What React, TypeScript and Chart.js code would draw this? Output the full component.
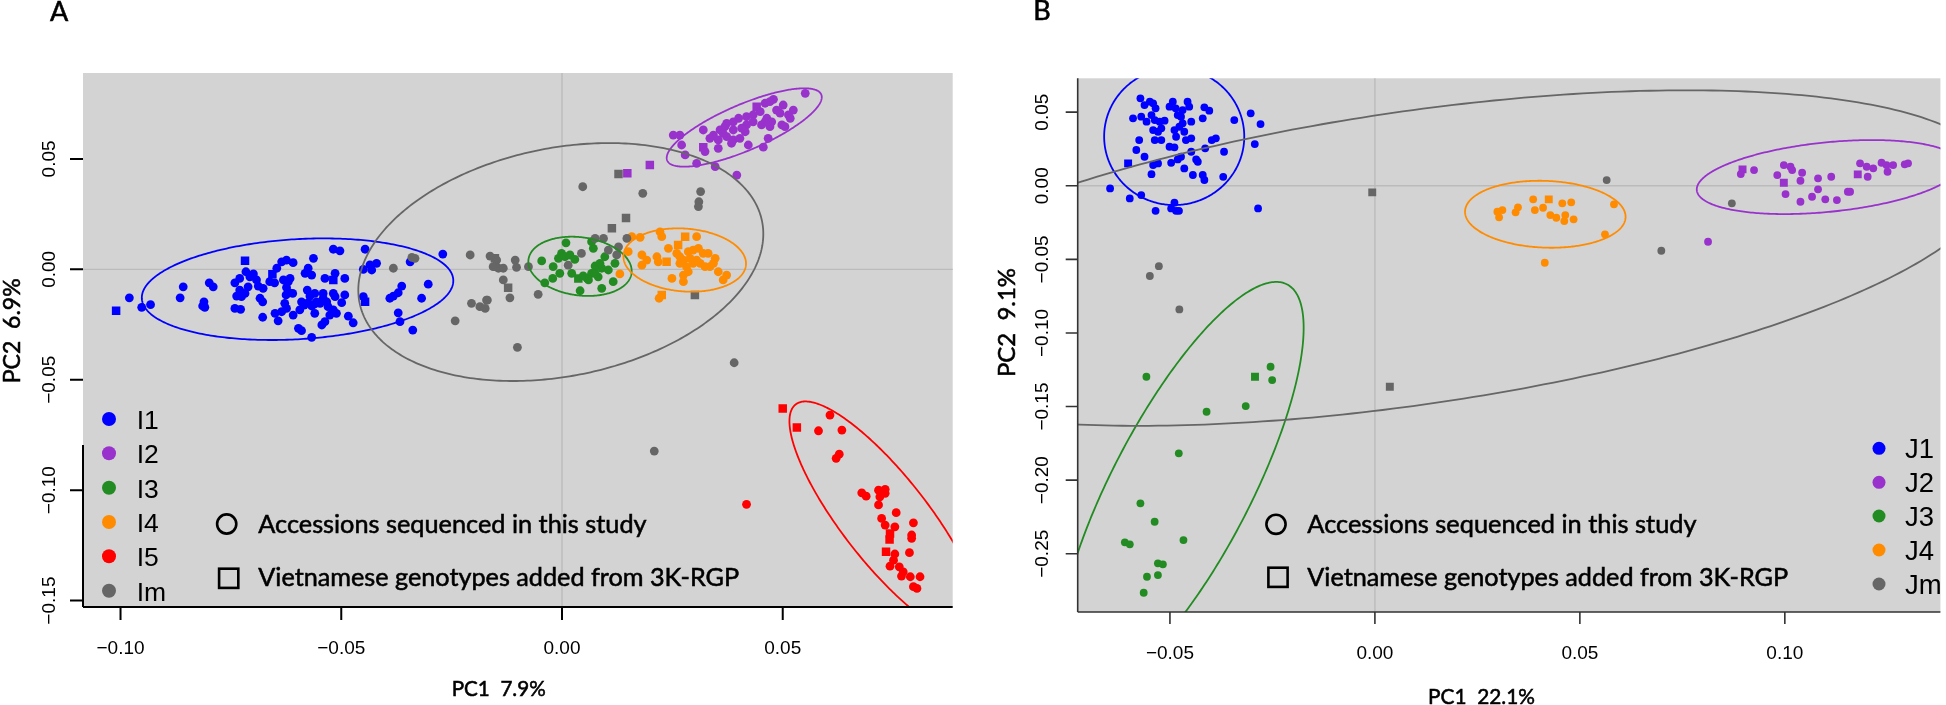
import React, { useEffect, useRef } from "react";
import { Chart, registerables } from "chart.js";
Chart.register(...registerables);

type P = [number, number];

// ================= Panel A data =================
const A_groups = ["I1", "I2", "I3", "I4", "I5", "Im"];
const A_colors = ["#0000FF", "#9932CC", "#228B22", "#FF8C00", "#FF0000", "#666666"];
const A_xTicks = [-0.1, -0.05, 0.0, 0.05];
const A_yTicks = [-0.15, -0.1, -0.05, 0.0, 0.05];
const A_xTitle = "PC1  7.9%";
const A_yTitle = "PC2  6.9%";

const A_I1_circles: P[] = [
  [-0.098, -0.0129], [-0.0952, -0.0172], [-0.0932, -0.016], [-0.0858, -0.0079], [-0.0865, -0.0129],
  [-0.0811, -0.0147], [-0.0814, -0.0166], [-0.0809, -0.0172], [-0.0799, -0.0061], [-0.079, -0.0079],
  [-0.0741, -0.0061], [-0.073, -0.0041], [-0.0716, -0.0011], [-0.0707, -0.0034], [-0.0699, -0.0021],
  [-0.073, -0.0094], [-0.0737, -0.0121], [-0.0726, -0.0124], [-0.0718, -0.0109], [-0.0711, -0.0079],
  [-0.0741, -0.0177], [-0.0728, -0.0181], [-0.0692, -0.0048], [-0.0688, -0.0076], [-0.0677, -0.0086],
  [-0.0684, -0.0131], [-0.0678, -0.0147], [-0.0678, -0.0217], [-0.0662, -0.0056], [-0.0646, 0.0005],
  [-0.0635, 0.0034], [-0.0624, 0.0042], [-0.0609, 0.003], [-0.0651, -0.0061], [-0.0631, -0.0048],
  [-0.062, -0.0056], [-0.0616, -0.0041], [-0.0624, -0.0082], [-0.0618, -0.0106], [-0.061, -0.0109],
  [-0.0625, -0.0116], [-0.0628, -0.0154], [-0.0624, -0.0177], [-0.0635, -0.0192], [-0.065, -0.0199],
  [-0.0643, -0.0233], [-0.0609, -0.0207], [-0.0597, -0.0267], [-0.059, -0.0278], [-0.0594, -0.0184],
  [-0.0582, -0.0018], [-0.0575, 0.0005], [-0.0563, 0.005], [-0.0567, -0.0026], [-0.0577, -0.0094],
  [-0.0571, -0.0121], [-0.056, -0.0109], [-0.059, -0.0147], [-0.0584, -0.0162], [-0.0575, -0.0151],
  [-0.0567, -0.0166], [-0.056, -0.0157], [-0.0556, -0.0147], [-0.056, -0.0199], [-0.0567, -0.0308],
  [-0.0548, -0.0154], [-0.0541, -0.0131], [-0.0541, -0.0109], [-0.0533, -0.0147], [-0.0544, -0.0252],
  [-0.0537, -0.0237], [-0.0526, -0.0207], [-0.0518, -0.0184], [-0.0511, -0.0199], [-0.053, -0.0169],
  [-0.0537, -0.0041], [-0.0514, -0.0018], [-0.0518, 0.0091], [-0.0503, 0.0084], [-0.0518, -0.0109],
  [-0.0514, -0.0124], [-0.0492, -0.0041], [-0.0492, -0.0116], [-0.0499, -0.0151], [-0.0484, -0.0212],
  [-0.0473, -0.0242], [-0.045, 0.0], [-0.0446, 0.0091], [-0.0435, 0.002], [-0.0431, -0.0003],
  [-0.042, 0.0027], [-0.045, -0.0124], [-0.039, -0.0131], [-0.0382, -0.0121], [-0.0371, -0.0106],
  [-0.0363, -0.0076], [-0.0371, -0.0197], [-0.0367, -0.0237], [-0.0338, -0.0275], [-0.0318, -0.0131],
  [-0.0303, -0.0067], [-0.0344, 0.0034], [-0.027, 0.0069],
];
const A_I1_squares: P[] = [[-0.101, -0.0188], [-0.0718, 0.0039], [-0.0518, -0.0048], [-0.0446, -0.0147], [-0.0656, -0.0022]];

const A_I2_circles: P[] = [
  [0.0551, 0.0797], [0.0479, 0.077], [0.0471, 0.0759], [0.046, 0.0752], [0.0501, 0.0744], [0.0524, 0.0721],
  [0.0513, 0.0699], [0.0517, 0.0684], [0.0494, 0.0707], [0.0486, 0.0721], [0.0449, 0.0714], [0.0433, 0.0699],
  [0.0418, 0.0691], [0.04, 0.0684], [0.0388, 0.0668], [0.0373, 0.0661], [0.0369, 0.0646], [0.0358, 0.0631],
  [0.0343, 0.0608], [0.0335, 0.0593], [0.032, 0.0631], [0.0354, 0.0586], [0.0373, 0.0601], [0.0388, 0.0586],
  [0.0403, 0.0593], [0.0384, 0.0571], [0.0422, 0.0563], [0.0456, 0.0553], [0.0467, 0.0593], [0.0498, 0.0654],
  [0.0505, 0.0646], [0.0471, 0.0646], [0.0452, 0.0654], [0.0433, 0.0668], [0.0418, 0.0654], [0.0407, 0.0639],
  [0.0415, 0.0623], [0.0388, 0.0631], [0.0365, 0.0616], [0.0354, 0.0548], [0.0324, 0.0533], [0.0267, 0.0608],
  [0.0252, 0.0608], [0.0271, 0.0563], [0.0279, 0.0518], [0.0305, 0.048], [0.0347, 0.0465], [0.0396, 0.0427],
  [0.0464, 0.0684], [0.0475, 0.0668], [0.046, 0.0668],
];
const A_I2_squares: P[] = [[0.0441, 0.0736], [0.032, 0.0553], [0.0199, 0.0472], [0.0148, 0.0435]];

const A_I3_circles: P[] = [
  [-0.0046, 0.0038], [-0.002, 0.0012], [-0.0005, -0.0018], [-0.0021, -0.0041], [-0.0039, -0.0061],
  [0.0009, 0.012], [-0.0001, 0.0072], [-0.0008, 0.005], [0.0007, 0.0057], [0.0018, 0.0065],
  [0.0029, 0.0045], [0.0022, -0.0018], [0.0041, -0.0097], [0.0057, -0.0041], [0.0067, -0.0018],
  [0.0075, 0.0015], [0.009, 0.0005], [0.0105, -0.0003], [0.0097, 0.0057], [0.0071, 0.0095],
  [0.0067, 0.0125], [0.0082, -0.0034], [0.009, -0.0086], [0.0116, -0.0056], [0.012, 0.0027],
  [0.006, -0.0048], [0.0086, 0.0027], [0.0075, -0.0018], [0.0048, -0.003],
];
const A_I3_squares: P[] = [[0.0037, -0.0041]];

const A_I4_circles: P[] = [
  [0.0158, 0.0148], [0.0177, 0.0145], [0.0222, 0.017], [0.0226, 0.0148], [0.0305, 0.0148], [0.0241, 0.0095],
  [0.0181, 0.0065], [0.0192, 0.0042], [0.0181, 0.0019], [0.0215, 0.0057], [0.0218, 0.0034], [0.026, 0.0072],
  [0.0267, 0.0057], [0.0275, 0.0042], [0.0286, 0.008], [0.0297, 0.0087], [0.0309, 0.0095], [0.032, 0.0072],
  [0.0331, 0.0072], [0.0347, 0.005], [0.0343, 0.0027], [0.0335, 0.0012], [0.0324, 0.0012], [0.0313, 0.0027],
  [0.0297, 0.0027], [0.0282, 0.0012], [0.0286, -0.0011], [0.0275, -0.0026], [0.0275, -0.0056], [0.0249, -0.0041],
  [0.0131, -0.0021], [0.015, 0.008], [0.0354, -0.0011], [0.0373, -0.0026], [0.0365, -0.0048], [0.022, -0.0131],
  [0.029, 0.005], [0.0305, 0.0042], [0.0267, 0.0027],
];
const A_I4_squares: P[] = [[0.0263, 0.011], [0.0279, 0.0148], [0.0237, 0.0034], [0.0226, -0.0116]];

const A_I5_circles: P[] = [
  [0.0607, -0.066], [0.0581, -0.0731], [0.0634, -0.0728], [0.0628, -0.0837], [0.0621, -0.0856],
  [0.0679, -0.1012], [0.0689, -0.1027], [0.0717, -0.1], [0.0732, -0.0996], [0.072, -0.103],
  [0.0717, -0.1067], [0.0732, -0.1014], [0.0757, -0.1102], [0.0724, -0.1128], [0.0732, -0.1158],
  [0.0754, -0.1166], [0.0796, -0.1148], [0.0792, -0.1203], [0.0792, -0.1218], [0.0754, -0.1289],
  [0.0751, -0.1317], [0.0743, -0.1344], [0.0764, -0.1347], [0.0773, -0.137], [0.0769, -0.1389],
  [0.0789, -0.1392], [0.0811, -0.1392], [0.0787, -0.1283], [0.0796, -0.1437], [0.0804, -0.1445],
  [0.0418, -0.1064],
];
const A_I5_squares: P[] = [[0.05, -0.063], [0.0532, -0.0716], [0.0743, -0.1196], [0.0742, -0.1223], [0.0734, -0.1279]];

const A_Im_circles: P[] = [
  [-0.0382, 0.0005], [-0.034, 0.0054], [-0.0333, 0.005], [-0.0208, 0.0065], [-0.0163, 0.006], [-0.0148, 0.0042],
  [-0.0152, 0.0012], [-0.0144, 0.0005], [-0.0205, -0.0154], [-0.0186, -0.0169], [-0.0174, -0.0177],
  [-0.0169, -0.0139], [-0.0242, -0.0233], [-0.0156, 0.0012], [-0.0133, 0.0005], [-0.0106, 0.0042],
  [-0.0103, 0.0009], [-0.0076, 0.0012], [-0.0133, -0.0048], [-0.0118, -0.0129], [-0.0171, -0.0139],
  [-0.0054, -0.0113], [-0.0101, -0.0353], [0.0014, 0.0019], [0.0044, 0.0072], [0.0075, 0.014],
  [0.0094, 0.014], [0.0105, 0.0087], [0.0124, 0.0065], [0.0128, 0.0102], [0.0147, 0.014], [0.0047, 0.0374],
  [0.0183, 0.0344], [0.0314, 0.0352], [0.031, 0.0306], [0.0309, 0.0284], [0.039, -0.0423], [0.0209, -0.0823],
];
const A_Im_squares: P[] = [[-0.0152, 0.005], [-0.0122, -0.0083], [0.0113, 0.0186], [0.0145, 0.0232], [0.0128, 0.0432], [0.0301, -0.0116]];

// ellipse: [centerX, centerY, axis1X, axis1Y, axis2X, axis2Y] (conjugate semi-diameters, data units)
const A_I1_ellipse = [-0.0599, -0.009, 0.03527, 0.0043, 0.00069, -0.0226];
const A_I2_ellipse = [0.04128, 0.06422, 0.01744, 0.01495, 0.00205, -0.00956];
const A_I3_ellipse = [0.00408, 0.00136, 0.01167, -0.00313, -0.00088, -0.01304];
const A_I4_ellipse = [0.0278, 0.00421, 0.01387, -0.00217, -0.00056, -0.01418];
const A_I5_ellipse = [0.07329, -0.11327, 0.02037, -0.05208, -0.00768, -0.012];
const A_Im_ellipse = [-0.00027, 0.0033, 0.04558, 0.01852, 0.00514, -0.05059];

// ================= Panel B data =================
const B_groups = ["J1", "J2", "J3", "J4", "Jm"];
const B_colors = ["#0000FF", "#9932CC", "#228B22", "#FF8C00", "#666666"];
const B_xTicks = [-0.05, 0.0, 0.05, 0.1];
const B_yTicks = [-0.25, -0.2, -0.15, -0.1, -0.05, 0.0, 0.05];
const B_xTitle = "PC1  22.1%";
const B_yTitle = "PC2  9.1%";

const B_J1_circles: P[] = [
  [-0.0572, 0.0594], [-0.0562, 0.0548], [-0.0549, 0.0571], [-0.0541, 0.056], [-0.0535, 0.0526], [-0.0545, 0.048],
  [-0.0557, 0.0435], [-0.057, 0.0469], [-0.059, 0.0458], [-0.0537, 0.0446], [-0.0525, 0.0435], [-0.0513, 0.0442],
  [-0.0501, 0.0537], [-0.0493, 0.0571], [-0.0486, 0.0526], [-0.0481, 0.048], [-0.0473, 0.0469], [-0.0469, 0.0514],
  [-0.0457, 0.0571], [-0.0453, 0.0537], [-0.0416, 0.0533], [-0.0404, 0.051], [-0.042, 0.0458], [-0.0448, 0.0435],
  [-0.0469, 0.0424], [-0.0477, 0.0401], [-0.0489, 0.0378], [-0.0485, 0.0333], [-0.0465, 0.0367], [-0.0461, 0.031],
  [-0.0448, 0.0322], [-0.0541, 0.0378], [-0.0529, 0.0367], [-0.0521, 0.039], [-0.0537, 0.031], [-0.0521, 0.031],
  [-0.0575, 0.031], [-0.0582, 0.0243], [-0.0562, 0.0197], [-0.0541, 0.0141], [-0.0529, 0.0152], [-0.0545, 0.0079],
  [-0.0501, 0.0265], [-0.0489, 0.0261], [-0.0497, 0.0156], [-0.0481, 0.0179], [-0.0473, 0.0197], [-0.0465, 0.0118],
  [-0.0448, 0.0231], [-0.0436, 0.0179], [-0.0432, 0.0163], [-0.0444, 0.0073], [-0.042, 0.0073], [-0.0416, 0.0039],
  [-0.0414, 0.0254], [-0.0398, 0.031], [-0.0388, 0.0322], [-0.0368, 0.0231], [-0.037, 0.0061], [-0.0343, 0.0446],
  [-0.0303, 0.0492], [-0.0279, 0.0419], [-0.0293, 0.0283], [-0.0285, -0.0154], [-0.0646, -0.0018], [-0.0598, -0.0086],
  [-0.057, -0.0063], [-0.0535, -0.017], [-0.0497, -0.0154], [-0.0489, -0.0115], [-0.0485, -0.017], [-0.0478, -0.017],
];
const B_J1_squares: P[] = [[-0.0602, 0.0152]];

const B_J2_circles: P[] = [
  [0.08926, 0.00795], [0.09249, 0.01067], [0.09816, 0.00727], [0.09976, 0.01406], [0.10138, 0.01291],
  [0.10179, 0.01067], [0.10422, 0.00883], [0.10381, 0.0034], [0.10017, -0.00564], [0.10381, -0.01087],
  [0.10664, -0.00747], [0.1081, 0.00503], [0.1081, -0.00245], [0.10987, -0.00924], [0.11132, 0.00611],
  [0.1127, -0.00971], [0.11537, -0.00408], [0.11592, -0.00408], [0.11835, 0.01522], [0.11997, 0.01291],
  [0.12021, 0.00611], [0.12157, 0.01182], [0.1236, 0.01563], [0.12482, 0.01406], [0.12506, 0.00951],
  [0.12642, 0.01406], [0.12925, 0.01454], [0.13006, 0.01522], [0.08127, -0.03804],
];
const B_J2_squares: P[] = [[0.08968, 0.01114], [0.09976, 0.00204], [0.11779, 0.00774]];

const B_J3_circles: P[] = [
  [-0.05574, -0.12976], [-0.02545, -0.12296], [-0.02506, -0.132], [-0.04106, -0.15353], [-0.03151, -0.14966],
  [-0.04784, -0.18179], [-0.0572, -0.21576], [-0.05373, -0.22826], [-0.061, -0.24226], [-0.05979, -0.24361],
  [-0.0467, -0.24069], [-0.05293, -0.25652], [-0.05172, -0.2572], [-0.0556, -0.26562], [-0.05293, -0.26447],
  [-0.0564, -0.27649],
];
const B_J3_squares: P[] = [[-0.02925, -0.12976]];

const B_J4_circles: P[] = [
  [0.02988, -0.01766], [0.0311, -0.01651], [0.0303, -0.02147], [0.03432, -0.01807], [0.0349, -0.01467],
  [0.03861, -0.00924], [0.03902, -0.01651], [0.04103, -0.01495], [0.0428, -0.0199], [0.04426, -0.02174],
  [0.04571, -0.01196], [0.04789, -0.01128], [0.04644, -0.0199], [0.0462, -0.02398], [0.04847, -0.02283],
  [0.05832, -0.01264], [0.05613, -0.03302], [0.04144, -0.05231],
];
const B_J4_squares: P[] = [[0.04241, -0.00924]];

const B_Jm_circles: P[] = [
  [-0.0527, -0.0546], [-0.0549, -0.0613], [-0.0477, -0.084], [0.05654, 0.00387], [0.06987, -0.04416], [0.08708, -0.01196],
];
const B_Jm_squares: P[] = [[-0.00065, -0.0045], [0.00364, -0.1365]];

const B_J1_ellipse = [-0.04896, 0.03342, 0.01709, 0.0, 0.0, -0.04654];
const B_J2_ellipse = [0.11059, 0.00591, 0.03207, 0.00836, 0.0, -0.02371];
const B_J3_ellipse = [-0.04729, -0.2053, 0.02991, 0.1087, 0.0, -0.08818];
const B_J4_ellipse = [0.04157, -0.01936, 0.01958, -0.0017, 0.0, -0.02269];
const B_Jm_ellipse = [0.00928, -0.04912, 0.14178, 0.05367, 0.0, -0.10054];

const SHAPE_LABELS = ["Accessions sequenced in this study", "Vietnamese genotypes added from 3K-RGP"];

// ================= rendering =================
const LATO = '"Lato", "Open Sans", sans-serif';
const ARIAL = '"Liberation Sans", Arial, sans-serif';

interface Layout {
  letter: string; letterX: number; letterBase: number;
  axisColor: string; axisWidth: number; leftAxisTop: number;
  tickLen: number; xLabelBase: number; yLabelBaseX: number; tickFont: number;
  xTitleX: number; xTitleBase: number; xTitleW: number;
  yTitleBaseX: number; yTitleY: number; yTitleW: number;
  legDotX: number; legTextX: number; legBases: number[]; legFont: number; legDotR: number;
  shapeCircle: [number, number]; shapeSquare: [number, number]; shapeTextX: number; shapeBases: number[];
  shapeW: number[];
}

interface PanelCfg {
  canvasLeft: number; width: number; height: number;
  pad: { left: number; right: number; top: number; bottom: number };
  xMin: number; xMax: number; yMin: number; yMax: number;
  xTicks: number[]; yTicks: number[]; xTitle: string; yTitle: string;
  groups: string[]; colors: string[];
  circles: P[][]; squares: P[][]; ellipses: number[][];
  circleR: number; squareR: number;
  lay: Layout;
}

const fmt = (v: number) => {
  const s = v.toFixed(2);
  return s.startsWith("-") ? "\u2212" + s.slice(1) : s;
};

function fitSize(ctx: CanvasRenderingContext2D, text: string, family: string, target: number) {
  ctx.font = `100px ${family}`;
  const w = ctx.measureText(text).width;
  return (100 * target) / w;
}

// text in the humanist face, slightly emboldened to match the heavier original
function heavyText(ctx: CanvasRenderingContext2D, t: string, x: number, y: number) {
  ctx.fillText(t, x, y);
  ctx.lineWidth = 0.55;
  ctx.strokeStyle = "#000";
  ctx.strokeText(t, x, y);
}

function makePlugin(cfg: PanelCfg) {
  return {
    id: "decor",
    beforeDatasetsDraw(chart: any) {
      const ctx: CanvasRenderingContext2D = chart.ctx;
      const ca = chart.chartArea;
      const xs = chart.scales.x, ys = chart.scales.y;
      ctx.save();
      ctx.fillStyle = "#D3D3D3";
      ctx.fillRect(ca.left, ca.top, ca.right - ca.left, ca.bottom - ca.top);
      ctx.strokeStyle = "#BBBBBB";
      ctx.lineWidth = 1.4;
      const x0 = xs.getPixelForValue(0), y0 = ys.getPixelForValue(0);
      ctx.beginPath();
      ctx.moveTo(x0, ca.top); ctx.lineTo(x0, ca.bottom);
      ctx.moveTo(ca.left, y0); ctx.lineTo(ca.right, y0);
      ctx.stroke();
      ctx.restore();
    },
    afterDatasetsDraw(chart: any) {
      const ctx: CanvasRenderingContext2D = chart.ctx;
      const ca = chart.chartArea;
      const xs = chart.scales.x, ys = chart.scales.y;
      const L = cfg.lay;
      // ellipses
      ctx.save();
      ctx.beginPath();
      ctx.rect(ca.left, ca.top, ca.right - ca.left, ca.bottom - ca.top);
      ctx.clip();
      ctx.lineWidth = 1.8;
      cfg.ellipses.forEach((e, gi) => {
        ctx.strokeStyle = cfg.colors[gi];
        ctx.beginPath();
        for (let i = 0; i <= 360; i++) {
          const t = (i / 360) * Math.PI * 2;
          const dx = e[0] + e[2] * Math.cos(t) + e[4] * Math.sin(t);
          const dy = e[1] + e[3] * Math.cos(t) + e[5] * Math.sin(t);
          const px = xs.getPixelForValue(dx), py = ys.getPixelForValue(dy);
          if (i === 0) ctx.moveTo(px, py); else ctx.lineTo(px, py);
        }
        ctx.closePath();
        ctx.stroke();
      });
      ctx.restore();

      ctx.save();
      // axes
      ctx.strokeStyle = L.axisColor;
      ctx.lineWidth = L.axisWidth;
      ctx.beginPath();
      ctx.moveTo(ca.left, ca.bottom); ctx.lineTo(ca.right, ca.bottom);
      ctx.moveTo(ca.left, L.leftAxisTop); ctx.lineTo(ca.left, ca.bottom);
      cfg.xTicks.forEach((v) => {
        const px = xs.getPixelForValue(v);
        ctx.moveTo(px, ca.bottom); ctx.lineTo(px, ca.bottom + L.tickLen);
      });
      cfg.yTicks.forEach((v) => {
        const py = ys.getPixelForValue(v);
        ctx.moveTo(ca.left - L.tickLen, py); ctx.lineTo(ca.left, py);
      });
      ctx.stroke();
      ctx.fillStyle = "#000";
      ctx.font = `${L.tickFont}px ${ARIAL}`;
      ctx.textAlign = "center";
      ctx.textBaseline = "alphabetic";
      cfg.xTicks.forEach((v) => {
        ctx.fillText(fmt(v), xs.getPixelForValue(v), L.xLabelBase);
      });
      cfg.yTicks.forEach((v) => {
        ctx.save();
        ctx.translate(L.yLabelBaseX, ys.getPixelForValue(v));
        ctx.rotate(-Math.PI / 2);
        ctx.fillText(fmt(v), 0, 0);
        ctx.restore();
      });
      // titles
      let s = fitSize(ctx, cfg.xTitle, LATO, L.xTitleW);
      ctx.font = `${s}px ${LATO}`;
      heavyText(ctx, cfg.xTitle, L.xTitleX, L.xTitleBase);
      s = fitSize(ctx, cfg.yTitle, LATO, L.yTitleW);
      ctx.font = `${s}px ${LATO}`;
      ctx.save();
      ctx.translate(L.yTitleBaseX, L.yTitleY);
      ctx.rotate(-Math.PI / 2);
      heavyText(ctx, cfg.yTitle, 0, 0);
      ctx.restore();
      // panel letter
      ctx.textAlign = "left";
      ctx.font = `27px ${LATO}`;
      heavyText(ctx, L.letter, L.letterX, L.letterBase);
      // group legend
      ctx.font = `${L.legFont}px ${ARIAL}`;
      cfg.groups.forEach((g, i) => {
        ctx.fillStyle = cfg.colors[i];
        ctx.beginPath();
        ctx.arc(L.legDotX, L.legBases[i] - 10, L.legDotR, 0, Math.PI * 2);
        ctx.fill();
        ctx.fillStyle = "#000";
        ctx.fillText(g, L.legTextX, L.legBases[i]);
      });
      // shape legend
      ctx.strokeStyle = "#000";
      ctx.lineWidth = 2.6;
      ctx.beginPath();
      ctx.arc(L.shapeCircle[0], L.shapeCircle[1], 9.6, 0, Math.PI * 2);
      ctx.stroke();
      ctx.strokeRect(L.shapeSquare[0] - 9.6, L.shapeSquare[1] - 9.6, 19.2, 19.2);
      SHAPE_LABELS.forEach((t, i) => {
        const fs = fitSize(ctx, t, LATO, L.shapeW[i]);
        ctx.font = `${fs}px ${LATO}`;
        ctx.fillStyle = "#000";
        heavyText(ctx, t, L.shapeTextX, L.shapeBases[i]);
      });
      ctx.restore();
    },
  };
}

const toXY = (arr: P[]) => arr.map(([x, y]) => ({ x, y }));

function PanelChart({ cfg }: { cfg: PanelCfg }) {
  const ref = useRef<HTMLCanvasElement | null>(null);
  useEffect(() => {
    if (!ref.current) return;
    const datasets: any[] = [];
    const order = cfg.groups.map((_, i) => i);
    // draw the admixed (last) group first
    const drawOrder = [order[order.length - 1], ...order.slice(0, -1)];
    drawOrder.forEach((gi) => {
      datasets.push({
        label: cfg.groups[gi],
        data: toXY(cfg.circles[gi]),
        pointStyle: "circle",
        pointRadius: cfg.circleR,
        pointBorderWidth: 0,
        pointBackgroundColor: cfg.colors[gi],
        backgroundColor: cfg.colors[gi],
        borderColor: cfg.colors[gi],
        showLine: false,
      });
      datasets.push({
        label: cfg.groups[gi] + " (3K-RGP)",
        data: toXY(cfg.squares[gi]),
        pointStyle: "rect",
        pointRadius: cfg.squareR,
        pointBorderWidth: 0,
        pointBackgroundColor: cfg.colors[gi],
        backgroundColor: cfg.colors[gi],
        borderColor: cfg.colors[gi],
        showLine: false,
      });
    });
    const chart = new Chart(ref.current, {
      type: "scatter",
      data: { datasets },
      options: {
        animation: false,
        responsive: false,
        devicePixelRatio: 1,
        layout: { padding: cfg.pad },
        scales: {
          x: { type: "linear", min: cfg.xMin, max: cfg.xMax, display: false },
          y: { type: "linear", min: cfg.yMin, max: cfg.yMax, display: false },
        },
        plugins: { legend: { display: false }, tooltip: { enabled: false } },
        events: [],
      },
      plugins: [makePlugin(cfg) as any],
    } as any);
    return () => chart.destroy();
  }, [cfg]);
  return (
    <canvas
      ref={ref}
      width={cfg.width}
      height={cfg.height}
      style={{ position: "absolute", left: cfg.canvasLeft, top: 0, width: cfg.width, height: cfg.height }}
    />
  );
}

const panelA: PanelCfg = {
  canvasLeft: 0, width: 973, height: 705,
  pad: { left: 83, right: 20.3, top: 73, bottom: 98 },
  xMin: -0.1085, xMax: 0.0885, yMin: -0.1529, yMax: 0.0889,
  xTicks: A_xTicks, yTicks: A_yTicks, xTitle: A_xTitle, yTitle: A_yTitle,
  groups: A_groups, colors: A_colors,
  circles: [A_I1_circles, A_I2_circles, A_I3_circles, A_I4_circles, A_I5_circles, A_Im_circles],
  squares: [A_I1_squares, A_I2_squares, A_I3_squares, A_I4_squares, A_I5_squares, A_Im_squares],
  ellipses: [A_I1_ellipse, A_I2_ellipse, A_I3_ellipse, A_I4_ellipse, A_I5_ellipse, A_Im_ellipse],
  circleR: 4.4, squareR: 6,
  lay: {
    letter: "A", letterX: 50, letterBase: 20.7,
    axisColor: "#000", axisWidth: 2, leftAxisTop: 445,
    tickLen: 13, xLabelBase: 654, yLabelBaseX: 55, tickFont: 19,
    xTitleX: 498.7, xTitleBase: 696, xTitleW: 94,
    yTitleBaseX: 20, yTitleY: 330.8, yTitleW: 105,
    legDotX: 109, legTextX: 136.7, legBases: [429, 463.3, 497.7, 532, 566.3, 600.7], legFont: 26.5, legDotR: 7,
    shapeCircle: [226.7, 524], shapeSquare: [228.7, 578.3], shapeTextX: 258.3, shapeBases: [533.3, 586],
    shapeW: [388.4, 481],
  },
};

const panelB: PanelCfg = {
  canvasLeft: 973, width: 973, height: 705,
  pad: { left: 104.7, right: 0, top: 78.3, bottom: 93 },
  xMin: -0.0725, xMax: 0.13795, yMin: -0.28957, yMax: 0.073,
  xTicks: B_xTicks, yTicks: B_yTicks, xTitle: B_xTitle, yTitle: B_yTitle,
  groups: B_groups, colors: B_colors,
  circles: [B_J1_circles, B_J2_circles, B_J3_circles, B_J4_circles, B_Jm_circles],
  squares: [B_J1_squares, B_J2_squares, B_J3_squares, B_J4_squares, B_Jm_squares],
  ellipses: [B_J1_ellipse, B_J2_ellipse, B_J3_ellipse, B_J4_ellipse, B_Jm_ellipse],
  circleR: 3.9, squareR: 5.6,
  lay: {
    letter: "B", letterX: 60.3, letterBase: 20,
    axisColor: "#333", axisWidth: 1.6, leftAxisTop: 78.3,
    tickLen: 12, xLabelBase: 659, yLabelBaseX: 75.3, tickFont: 19,
    xTitleX: 508.5, xTitleBase: 704, xTitleW: 107,
    yTitleBaseX: 42, yTitleY: 322.5, yTitleW: 109,
    legDotX: 906, legTextX: 932, legBases: [458.3, 492.3, 526, 560, 594], legFont: 27.5, legDotR: 6.5,
    shapeCircle: [303, 524.3], shapeSquare: [305, 577.3], shapeTextX: 334.3, shapeBases: [533.3, 586],
    shapeW: [389.4, 481],
  },
};

export default function App() {
  return (
    <div style={{ position: "absolute", left: 0, top: 0, width: 1946, height: 705, background: "#fff", overflow: "hidden" }}>
      <PanelChart cfg={panelA} />
      <PanelChart cfg={panelB} />
    </div>
  );
}
